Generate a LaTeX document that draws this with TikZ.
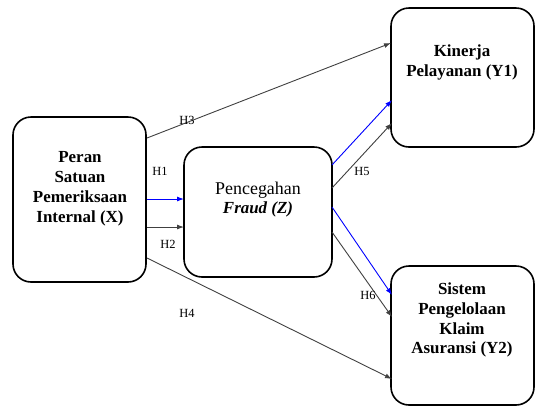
\documentclass[tikz,border=0pt]{standalone}
\usepackage{fontspec}
\setmainfont{Liberation Serif}
\usetikzlibrary{arrows.meta}
\begin{document}
\begin{tikzpicture}[x=1bp,y=-1bp,
  box/.style={draw=black,line width=1.6bp,rounded corners=18bp},
  boxtext/.style={align=center,font=\fontsize{17}{20}\selectfont\bfseries,inner sep=0pt},
  conn/.style={draw=black!75,line width=0.9bp,-{Latex[length=7bp,width=5bp]}},
  bconn/.style={draw=blue,line width=0.9bp,-{Latex[length=7bp,width=5bp]}},
  hlab/.style={font=\fontsize{12.5}{14}\selectfont,inner sep=0pt}]
\useasboundingbox (0,0) rectangle (536,407);
% boxes
\draw[box] (13,117) rectangle (146,282);
\draw[box] (184,147) rectangle (332,277);
\draw[box] (391,8) rectangle (534,147);
\draw[box] (391,266) rectangle (534,405);
\node[boxtext] (tx) at (80,189) {Peran\\Satuan\\Pemeriksaan\\Internal (X)};
\node[boxtext,font=\fontsize{17}{19}\selectfont] (tz) at (258,200) {\fontsize{18}{19}\selectfont\mdseries Pencegahan\\\fontsize{17}{19}\selectfont\bfseries\itshape Fraud (Z)};
\node[boxtext] (ty1) at (462,62) {Kinerja\\Pelayanan (Y1)};
\node[boxtext] (ty2) at (462,320) {Sistem\\Pengelolaan\\Klaim\\Asuransi (Y2)};
% connector endpoints
\coordinate (x3) at (147,138);
\coordinate (x1) at (147,199);
\coordinate (x2) at (147,227);
\coordinate (x4) at (147,258);
\coordinate (z1) at (184,199);
\coordinate (z2) at (184,227);
\coordinate (z5b) at (332,165);
\coordinate (z5) at (332,188);
\coordinate (z6b) at (332,207);
\coordinate (z6) at (332,232);
\coordinate (y3) at (391,43);
\coordinate (y5b) at (392,100);
\coordinate (y5) at (392,123);
\coordinate (y6b) at (392,295);
\coordinate (y6) at (392,317);
\coordinate (y4) at (392,379);
\draw[conn] (x3) -- (y3);
\draw[bconn] (x1) -- (z1);
\draw[conn] (x2) -- (z2);
\draw[conn] (x4) -- (y4);
\draw[bconn] (z5b) -- (y5b);
\draw[conn] (z5) -- (y5);
\draw[bconn] (z6b) -- (y6b);
\draw[conn] (z6) -- (y6);
% labels
\node[hlab] (h3) at (187,120) {H3};
\node[hlab] (h1) at (160,171) {H1};
\node[hlab] (h2) at (168,244) {H2};
\node[hlab] (h5) at (362,171) {H5};
\node[hlab] (h6) at (368,295) {H6};
\node[hlab] (h4) at (187,313) {H4};
\end{tikzpicture}
\end{document}
